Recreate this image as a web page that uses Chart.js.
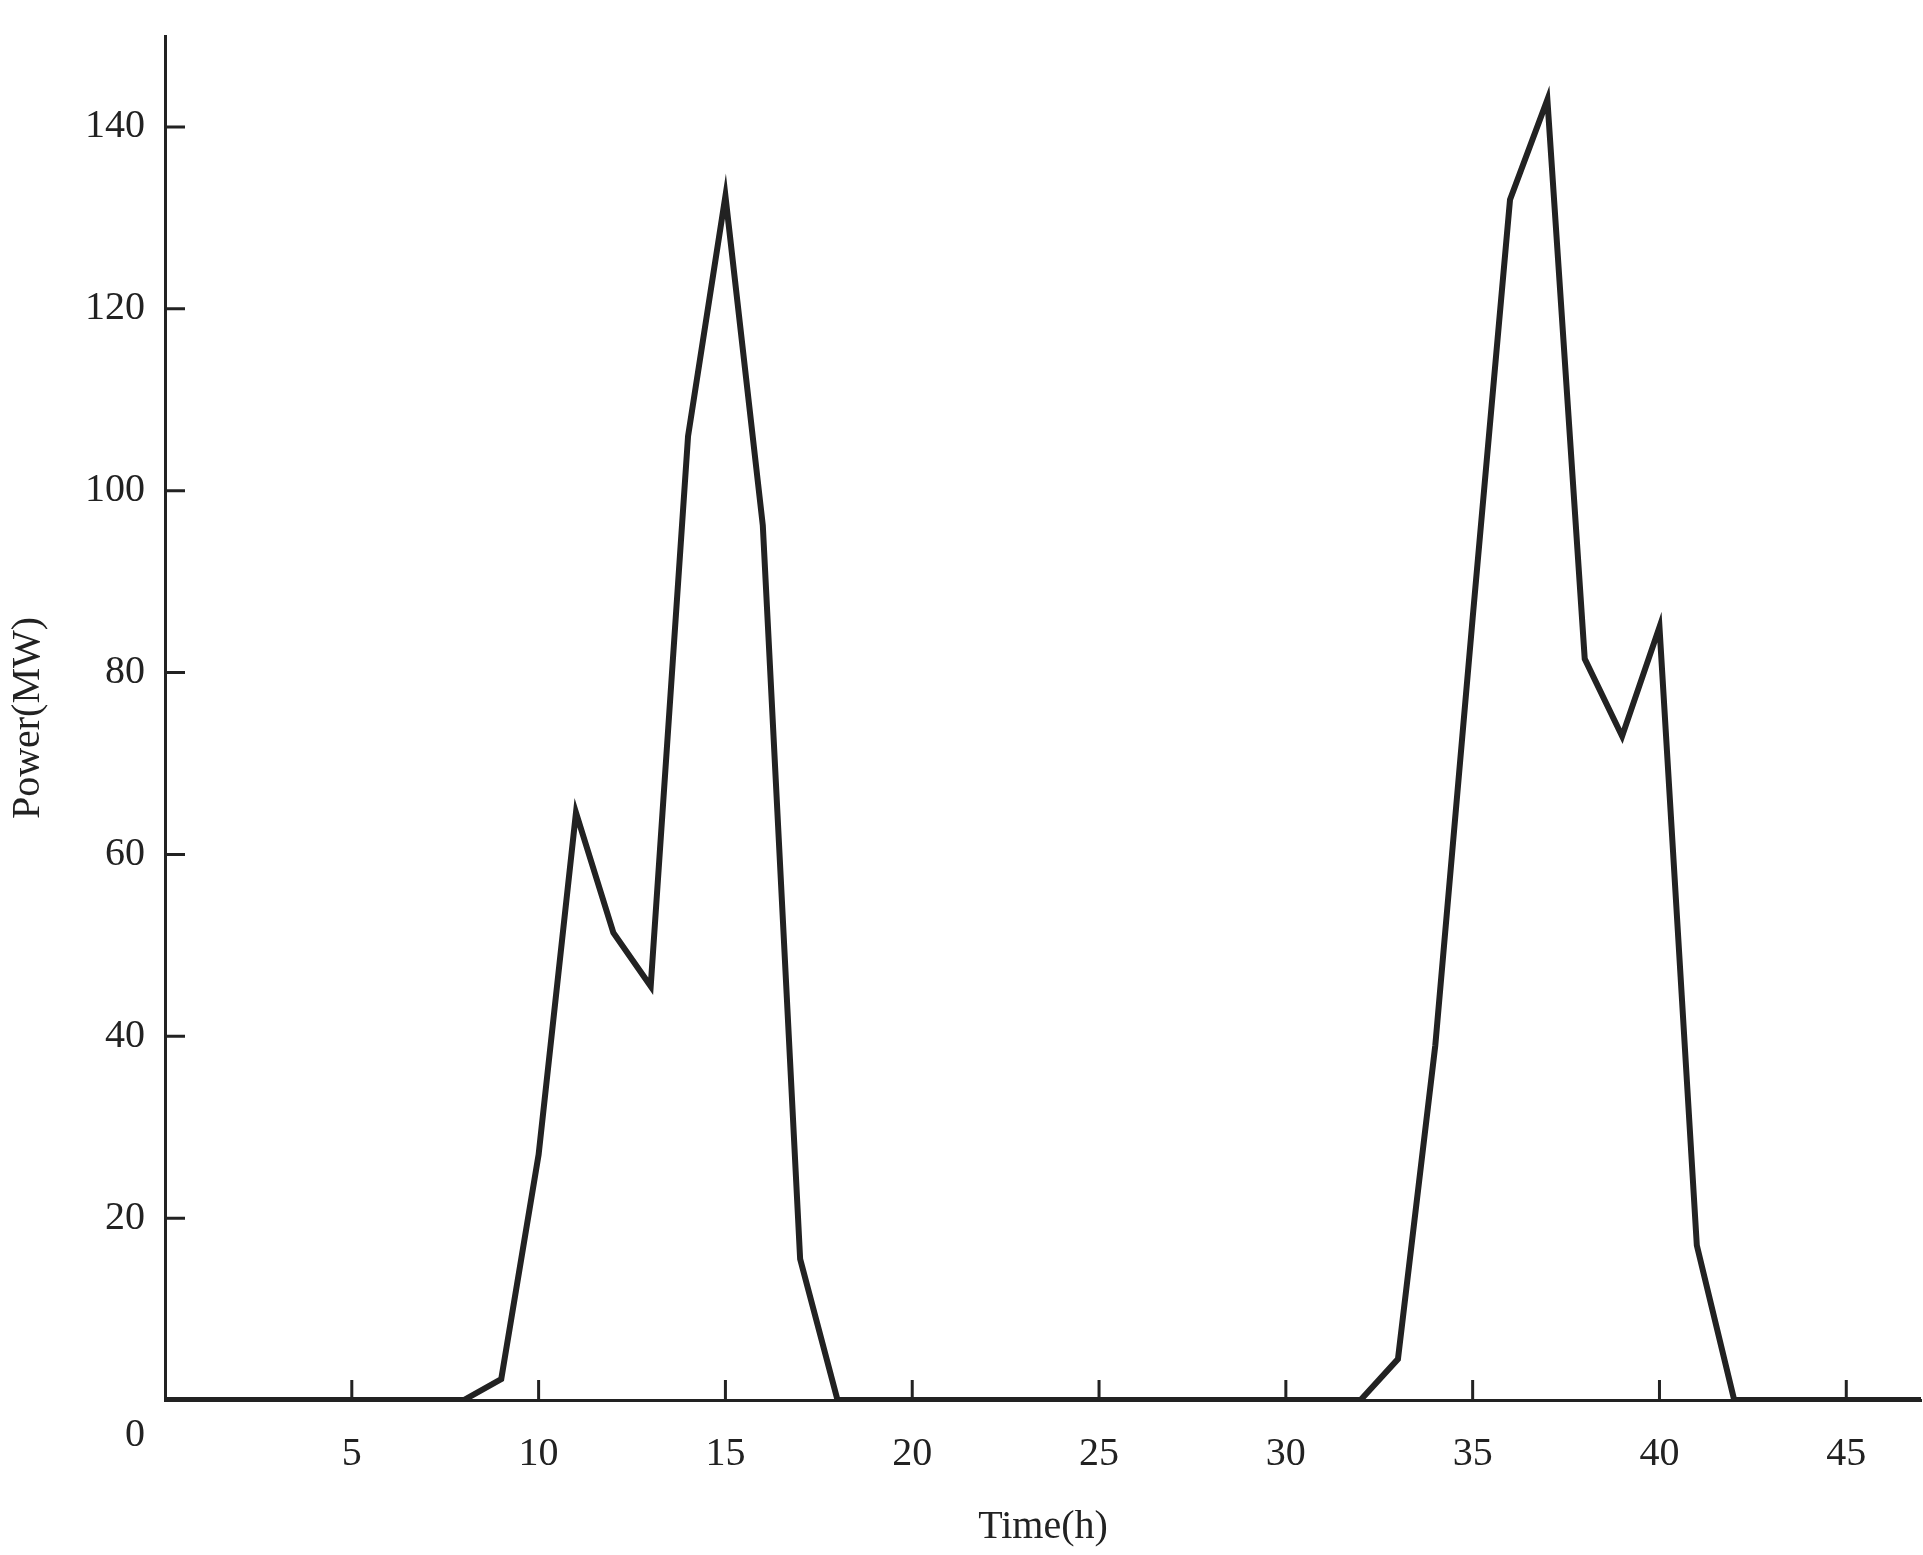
<!DOCTYPE html>
<html>
<head>
<meta charset="utf-8">
<script src="https://cdn.jsdelivr.net/npm/chart.js@4"></script>
<style>
  body { margin: 0; background: #fff; }
</style>
</head>
<body>
<canvas id="chart" width="1923" height="1555"></canvas>
<script>
const hours = [];
for (let h = 0; h <= 47; h++) hours.push(h);
const power = [0, 0, 0, 0, 0, 0, 0, 0, 0, 2.3, 27, 64.6, 51.4, 45.5, 106, 132.4, 96.2, 15.5,
  0, 0, 0, 0, 0, 0, 0, 0, 0, 0, 0, 0, 0, 0, 0, 4.5, 39, 86, 132, 143, 81.5, 73, 85, 17,
  0, 0, 0, 0, 0, 0];
const xTicks = [0, 5, 10, 15, 20, 25, 30, 35, 40, 45];
const yTicks = [0, 20, 40, 60, 80, 100, 120, 140];

const ink = '#222';
const font = { family: '"Liberation Serif", "DejaVu Serif", serif', size: 40 };

// inward tick marks and the shared "0" at the corner
const innerTicks = {
  id: 'innerTicks',
  afterDraw(chart) {
    const { ctx, scales: { x, y } } = chart;
    ctx.save();
    ctx.strokeStyle = ink;
    ctx.lineWidth = 3;
    ctx.beginPath();
    xTicks.slice(1).forEach(v => {
      const px = x.getPixelForValue(v);
      ctx.moveTo(px, y.bottom);
      ctx.lineTo(px, y.bottom - 20);
    });
    yTicks.slice(1).forEach(v => {
      const py = y.getPixelForValue(v);
      ctx.moveTo(x.left, py);
      ctx.lineTo(x.left + 20, py);
    });
    ctx.stroke();
    ctx.fillStyle = ink;
    ctx.font = font.size + 'px ' + font.family;
    ctx.textAlign = 'center';
    ctx.textBaseline = 'middle';
    ctx.fillText('0', x.left - 30, y.bottom + 35);
    ctx.restore();
  }
};

new Chart(document.getElementById('chart'), {
  type: 'line',
  data: {
    datasets: [{
      data: hours.map((h, i) => ({ x: h, y: power[i] })),
      borderColor: ink,
      borderWidth: 6,
      pointRadius: 0,
      tension: 0
    }]
  },
  options: {
    responsive: false,
    animation: false,
    devicePixelRatio: 1,
    layout: { padding: { top: 34, right: 2 } },
    plugins: { legend: { display: false }, tooltip: { enabled: false } },
    scales: {
      x: {
        type: 'linear',
        min: 0,
        max: 47,
        afterBuildTicks: s => { s.ticks = xTicks.map(v => ({ value: v })); },
        afterFit: s => { s.height = 155; },
        grid: { display: false },
        border: { display: true, color: ink, width: 3 },
        ticks: { color: ink, font, padding: 22, maxRotation: 0,
          callback: v => v === 0 ? '' : v },
        title: { display: true, text: 'Time(h)', color: ink, font, padding: { top: 0 } }
      },
      y: {
        min: 0,
        max: 150,
        afterBuildTicks: s => { s.ticks = yTicks.map(v => ({ value: v })); },
        afterFit: s => { s.width = 165; },
        grid: { display: false },
        border: { display: true, color: ink, width: 3 },
        ticks: { color: ink, font, padding: 12,
          callback: v => v === 0 ? '' : v },
        title: { display: true, text: 'Power(MW)', color: ink, font, padding: { bottom: 0 } }
      }
    }
  },
  plugins: [innerTicks]
});
</script>
</body>
</html>
